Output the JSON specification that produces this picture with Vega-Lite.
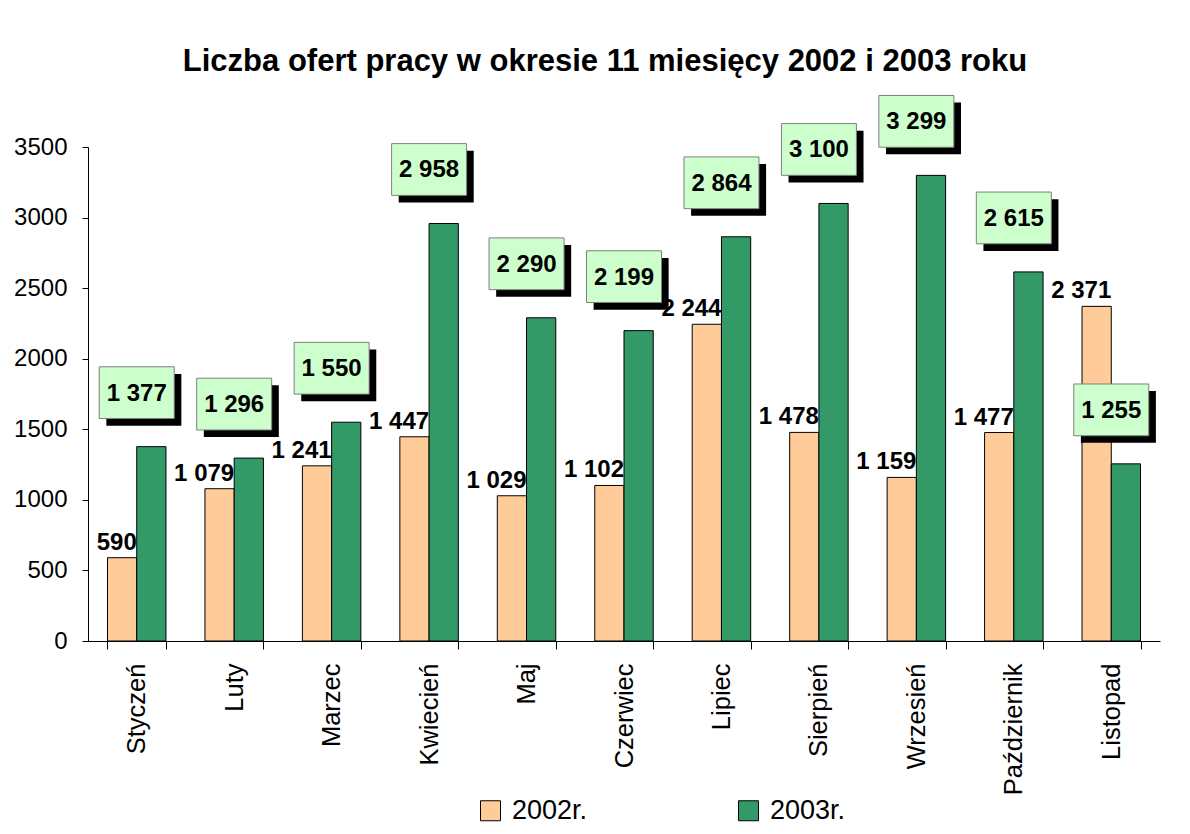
{
  "$schema": "https://vega.github.io/schema/vega-lite/v6.json",
  "width": 1072,
  "height": 494,
  "autosize": {"type": "none"},
  "padding": {"left": 88, "top": 147, "right": 30, "bottom": 193},
  "background": "white",
  "config": {
    "font": "Liberation Sans",
    "view": {"stroke": null},
    "locale": {"number": {"decimal": ",", "thousands": " ", "grouping": [3], "currency": ["", ""]}}
  },
  "title": {
    "text": "Liczba ofert pracy w okresie 11 miesięcy 2002 i 2003 roku",
    "font": "Liberation Sans",
    "fontSize": 31,
    "fontWeight": "bold",
    "color": "black",
    "anchor": "middle",
    "frame": "group",
    "dx": -19,
    "dy": 34,
    "offset": 25,
    "baseline": "alphabetic"
  },
  "data": {
    "values": [
      {"miesiac": "Styczeń", "rok": "2002r.", "wartosc": 590},
      {"miesiac": "Styczeń", "rok": "2003r.", "wartosc": 1377},
      {"miesiac": "Luty", "rok": "2002r.", "wartosc": 1079},
      {"miesiac": "Luty", "rok": "2003r.", "wartosc": 1296},
      {"miesiac": "Marzec", "rok": "2002r.", "wartosc": 1241},
      {"miesiac": "Marzec", "rok": "2003r.", "wartosc": 1550},
      {"miesiac": "Kwiecień", "rok": "2002r.", "wartosc": 1447},
      {"miesiac": "Kwiecień", "rok": "2003r.", "wartosc": 2958},
      {"miesiac": "Maj", "rok": "2002r.", "wartosc": 1029},
      {"miesiac": "Maj", "rok": "2003r.", "wartosc": 2290},
      {"miesiac": "Czerwiec", "rok": "2002r.", "wartosc": 1102},
      {"miesiac": "Czerwiec", "rok": "2003r.", "wartosc": 2199},
      {"miesiac": "Lipiec", "rok": "2002r.", "wartosc": 2244},
      {"miesiac": "Lipiec", "rok": "2003r.", "wartosc": 2864},
      {"miesiac": "Sierpień", "rok": "2002r.", "wartosc": 1478},
      {"miesiac": "Sierpień", "rok": "2003r.", "wartosc": 3100},
      {"miesiac": "Wrzesień", "rok": "2002r.", "wartosc": 1159},
      {"miesiac": "Wrzesień", "rok": "2003r.", "wartosc": 3299},
      {"miesiac": "Październik", "rok": "2002r.", "wartosc": 1477},
      {"miesiac": "Październik", "rok": "2003r.", "wartosc": 2615},
      {"miesiac": "Listopad", "rok": "2002r.", "wartosc": 2371},
      {"miesiac": "Listopad", "rok": "2003r.", "wartosc": 1255}
    ]
  },
  "encoding": {
    "x": {
      "field": "miesiac",
      "type": "nominal",
      "sort": null,
      "scale": {"paddingInner": 0.4, "paddingOuter": 0.2},
      "axis": {
        "title": null,
        "labelAngle": -90,
        "labelAlign": "right",
        "labelBaseline": "middle",
        "labelFontSize": 25.5,
        "labelColor": "black",
        "tickBand": "extent",
        "tickSize": 8,
        "tickColor": "black",
        "domainColor": "black",
        "labelPadding": 14
      }
    },
    "y": {
      "field": "wartosc",
      "type": "quantitative",
      "scale": {"domain": [0, 3500], "nice": false},
      "axis": {
        "title": null,
        "values": [0, 500, 1000, 1500, 2000, 2500, 3000, 3500],
        "format": "d",
        "grid": false,
        "labelFontSize": 24,
        "labelColor": "black",
        "tickSize": 6,
        "tickColor": "black",
        "domainColor": "black",
        "labelPadding": 15
      }
    }
  },
  "layer": [
    {
      "mark": {"type": "bar", "stroke": "black", "strokeWidth": 1},
      "encoding": {
        "xOffset": {"field": "rok", "type": "nominal", "sort": ["2002r.", "2003r."]},
        "color": {
          "field": "rok",
          "type": "nominal",
          "scale": {"domain": ["2002r.", "2003r."], "range": ["#FFCC99", "#339966"]},
          "legend": {
            "title": null,
            "orient": "none",
            "legendX": 389,
            "legendY": 650,
            "direction": "horizontal",
            "symbolType": "square",
            "symbolSize": 400,
            "symbolStrokeColor": "black",
            "symbolStrokeWidth": 1,
            "symbolOpacity": 1,
            "labelFontSize": 27,
            "labelColor": "black",
            "labelOffset": 8,
            "columnPadding": 147
          }
        }
      }
    },
    {
      "transform": [{"filter": "datum.rok == '2002r.'"}],
      "mark": {"type": "text", "align": "right", "baseline": "alphabetic", "dy": -8, "fontSize": 24, "fontWeight": "bold", "color": "black"},
      "encoding": {"text": {"field": "wartosc", "type": "quantitative", "format": ",d"}}
    },
    {
      "transform": [{"filter": "datum.rok == '2003r.'"}],
      "mark": {"type": "point", "shape": "M-0.81,-1.94L1.19,-1.94L1.19,-0.56L-0.81,-0.56Z", "size": 5625, "filled": true, "fill": "black", "opacity": 1, "strokeWidth": 0}
    },
    {
      "transform": [{"filter": "datum.rok == '2003r.'"}],
      "mark": {"type": "point", "shape": "M-1,-2.13L1,-2.13L1,-0.75L-1,-0.75Z", "size": 5625, "filled": true, "fill": "#CCFFCC", "stroke": "#7F7F7F", "strokeWidth": 1, "opacity": 1}
    },
    {
      "transform": [{"filter": "datum.rok == '2003r.'"}],
      "mark": {"type": "text", "align": "center", "baseline": "middle", "dy": -53, "fontSize": 24, "fontWeight": "bold", "color": "black"},
      "encoding": {"text": {"field": "wartosc", "type": "quantitative", "format": ",d"}}
    }
  ]
}
